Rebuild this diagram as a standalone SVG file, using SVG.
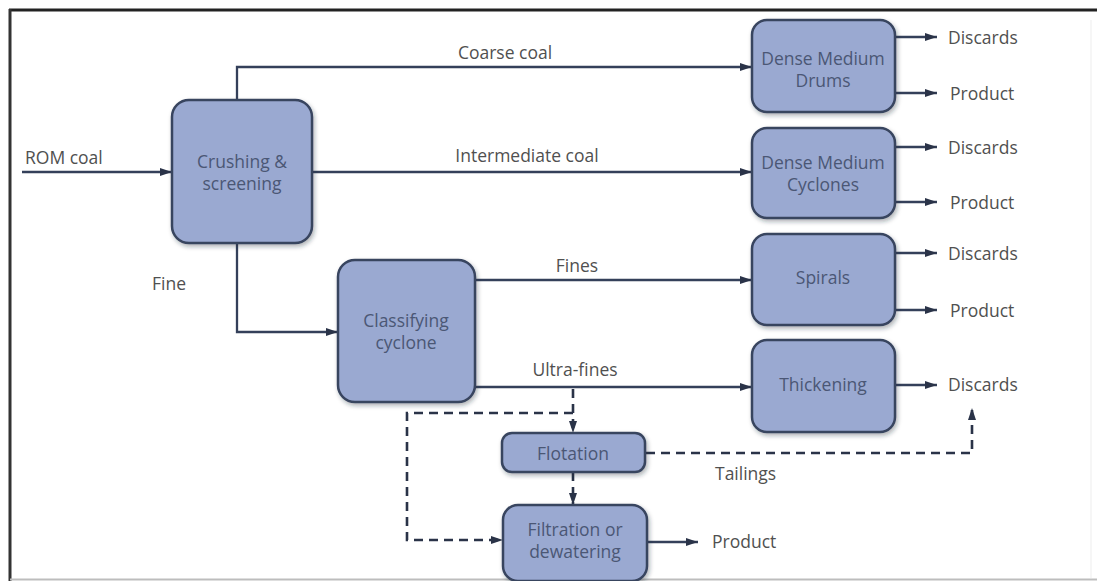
<svg xmlns="http://www.w3.org/2000/svg" width="1097" height="581" viewBox="0 0 1097 581">
  <defs>
    <style>
      .box { fill: #9aa9d1; stroke: #38445f; stroke-width: 2.5; filter: url(#shadow); }
      .btxt { font-family: "Open Sans", "Liberation Sans", sans-serif; font-size: 17.5px; fill: #4b5775; text-anchor: middle; dominant-baseline: central; }
      .lbl { font-family: "Open Sans", "Liberation Sans", sans-serif; font-size: 17.5px; fill: #505050; dominant-baseline: central; }
      .flow { fill: none; stroke: #34405a; stroke-width: 2.3; }
      .dash { fill: none; stroke: #2a3348; stroke-width: 2.6; stroke-dasharray: 9 6; }
    </style>
    <marker id="arr" viewBox="0 0 12 8" refX="12" refY="4" markerWidth="12" markerHeight="8" markerUnits="userSpaceOnUse" orient="auto">
      <path d="M0,0 L12,4 L0,8 z" fill="#2a3348"/>
    </marker>
    <filter id="shadow" x="-10%" y="-10%" width="125%" height="130%">
      <feDropShadow dx="1.5" dy="2.5" stdDeviation="2" flood-color="#1d2538" flood-opacity="0.35"/>
    </filter>
  </defs>

  <rect x="0" y="0" width="1097" height="581" fill="#ffffff"/>

  <!-- frame -->
  <g id="frame">
    <line x1="9" y1="10" x2="1097" y2="10" stroke="#222" stroke-width="3"/>
    <line x1="10" y1="9" x2="10" y2="581" stroke="#333" stroke-width="3"/>
    <line x1="10" y1="579.5" x2="1097" y2="579.5" stroke="#bdbdbd" stroke-width="2"/>
    <line x1="1091" y1="20" x2="1091" y2="578" stroke="#f3f3f3" stroke-width="1.5"/>
  </g>

  <!-- connectors -->
  <g id="connectors">
    <path class="flow" d="M22,172 H172" marker-end="url(#arr)"/>
    <path class="flow" d="M237,100 V67 H752" marker-end="url(#arr)"/>
    <path class="flow" d="M312,172 H752" marker-end="url(#arr)"/>
    <path class="flow" d="M237,243 V332 H338" marker-end="url(#arr)"/>
    <path class="flow" d="M475,280 H752" marker-end="url(#arr)"/>
    <path class="flow" d="M475,387 H752" marker-end="url(#arr)"/>

    <path class="flow" d="M895,37 H937" marker-end="url(#arr)"/>
    <path class="flow" d="M895,93 H937" marker-end="url(#arr)"/>
    <path class="flow" d="M895,147 H937" marker-end="url(#arr)"/>
    <path class="flow" d="M895,202 H937" marker-end="url(#arr)"/>
    <path class="flow" d="M895,253 H937" marker-end="url(#arr)"/>
    <path class="flow" d="M895,310 H937" marker-end="url(#arr)"/>
    <path class="flow" d="M895,385 H937" marker-end="url(#arr)"/>
    <path class="flow" d="M647,542 H698" marker-end="url(#arr)"/>

    <path class="dash" d="M573,389 V433" marker-end="url(#arr)"/>
    <path class="dash" d="M573,413 H407 V540 H503" marker-end="url(#arr)"/>
    <path class="dash" d="M573,472 V505" marker-end="url(#arr)"/>
    <path class="dash" d="M646,453 H972 V408" marker-end="url(#arr)"/>
  </g>

  <!-- nodes -->
  <g id="crushing">
    <rect class="box" x="172" y="100" width="140" height="143" rx="17"/>
    <text class="btxt" x="242" y="161">Crushing &amp;</text>
    <text class="btxt" x="242" y="183">screening</text>
  </g>
  <g id="dm-drums">
    <rect class="box" x="752" y="20" width="143" height="92" rx="15"/>
    <text class="btxt" x="823" y="58">Dense Medium</text>
    <text class="btxt" x="823" y="80">Drums</text>
  </g>
  <g id="dm-cyclones">
    <rect class="box" x="752" y="128" width="143" height="90" rx="15"/>
    <text class="btxt" x="823" y="162">Dense Medium</text>
    <text class="btxt" x="823" y="184">Cyclones</text>
  </g>
  <g id="spirals">
    <rect class="box" x="752" y="234" width="143" height="91" rx="15"/>
    <text class="btxt" x="823" y="277">Spirals</text>
  </g>
  <g id="thickening">
    <rect class="box" x="752" y="340" width="143" height="92" rx="15"/>
    <text class="btxt" x="823" y="384">Thickening</text>
  </g>
  <g id="classifying">
    <rect class="box" x="338" y="260" width="137" height="142" rx="17"/>
    <text class="btxt" x="406" y="320">Classifying</text>
    <text class="btxt" x="406" y="342">cyclone</text>
  </g>
  <g id="flotation">
    <rect class="box" x="502" y="433" width="143" height="39" rx="10"/>
    <text class="btxt" x="573" y="453">Flotation</text>
  </g>
  <g id="filtration">
    <rect class="box" x="503" y="505" width="144" height="76" rx="15"/>
    <text class="btxt" x="575" y="529">Filtration or</text>
    <text class="btxt" x="575" y="551">dewatering</text>
  </g>

  <!-- labels -->
  <g id="labels">
    <text class="lbl" x="25" y="157">ROM coal</text>
    <text class="lbl" x="505" y="52" text-anchor="middle">Coarse coal</text>
    <text class="lbl" x="527" y="155" text-anchor="middle">Intermediate coal</text>
    <text class="lbl" x="152" y="283">Fine</text>
    <text class="lbl" x="577" y="265" text-anchor="middle">Fines</text>
    <text class="lbl" x="575" y="369" text-anchor="middle">Ultra-fines</text>
    <text class="lbl" x="715" y="473">Tailings</text>
    <text class="lbl" x="712" y="541">Product</text>
    <text class="lbl" x="948" y="37">Discards</text>
    <text class="lbl" x="950" y="93">Product</text>
    <text class="lbl" x="948" y="147">Discards</text>
    <text class="lbl" x="950" y="202">Product</text>
    <text class="lbl" x="948" y="253">Discards</text>
    <text class="lbl" x="950" y="310">Product</text>
    <text class="lbl" x="948" y="384">Discards</text>
  </g>
</svg>
